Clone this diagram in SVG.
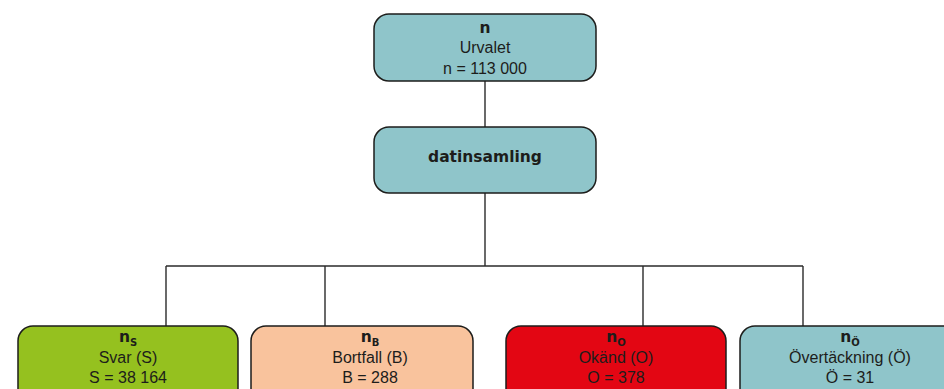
<svg xmlns="http://www.w3.org/2000/svg" width="944" height="389" viewBox="0 0 944 389">
<style>
.box{stroke:#1d1d1b;stroke-width:1.5}
.teal{fill:#8fc5ca}
.green{fill:#95c11f}
.peach{fill:#f9c39d}
.red{fill:#e30613}
.t{font-family:"Liberation Sans",Arial,sans-serif;font-size:16px;fill:#1d1d1b;text-anchor:middle}
.b{font-family:"DejaVu Sans","Liberation Sans",sans-serif;font-weight:bold;font-size:15.5px;fill:#1d1d1b;text-anchor:middle}
.sub{font-size:10px}
.conn{stroke:#2b2b2b;stroke-width:1.4;fill:none}
</style>
<rect width="944" height="389" fill="#ffffff"/>
<g id="connectors">
<path class="conn" d="M485 81V127M485 193V266M166 266H803M166 266V326M325 266V326M643 266V326M803 266V326"/>
</g>
<g id="node-urvalet">
<rect class="box teal" x="374" y="14" width="222" height="67" rx="15"/>
<text class="b" x="485" y="33">n</text>
<text class="t" x="485" y="53">Urvalet</text>
<text class="t" x="485" y="74">n = 113 000</text>
</g>
<g id="node-datinsamling">
<rect class="box teal" x="374" y="127" width="222" height="66" rx="15"/>
<text class="b" x="485" y="162">datinsamling</text>
</g>
<g id="node-svar">
<rect class="box green" x="18" y="326" width="220" height="80" rx="15"/>
<text class="b" x="128" y="342">n<tspan class="sub" dy="4">S</tspan></text>
<text class="t" x="128" y="363">Svar (S)</text>
<text class="t" x="128" y="383">S = 38 164</text>
</g>
<g id="node-bortfall">
<rect class="box peach" x="251" y="326" width="222" height="80" rx="15"/>
<text class="b" x="370" y="342">n<tspan class="sub" dy="4">B</tspan></text>
<text class="t" x="370" y="363">Bortfall (B)</text>
<text class="t" x="370" y="383">B = 288</text>
</g>
<g id="node-okand">
<rect class="box red" x="506" y="326" width="220" height="80" rx="15"/>
<text class="b" x="616" y="342">n<tspan class="sub" dy="4">O</tspan></text>
<text class="t" x="616" y="363">Okänd (O)</text>
<text class="t" x="616" y="383">O = 378</text>
</g>
<g id="node-overtackning">
<rect class="box teal" x="740" y="326" width="220" height="80" rx="15"/>
<text class="b" x="850" y="342">n<tspan class="sub" dy="4">Ö</tspan></text>
<text class="t" x="850" y="363">Övertäckning (Ö)</text>
<text class="t" x="850" y="383">Ö = 31</text>
</g>
</svg>
